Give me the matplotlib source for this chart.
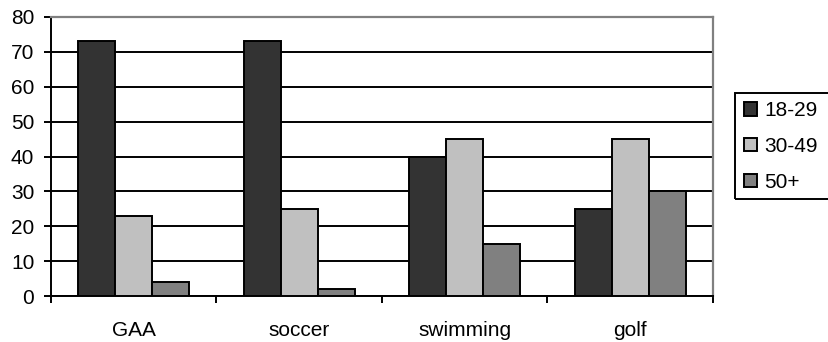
import matplotlib
matplotlib.use('Agg')
import matplotlib.pyplot as plt
from matplotlib.patches import Patch, Rectangle
import numpy as np

plt.rcParams['font.family'] = ['Liberation Sans', 'DejaVu Sans']

sports = ['GAA', 'soccer', 'swimming', 'golf']
age_groups = ['18-29', '30-49', '50+']
age_18_29 = [73, 73, 40, 25]
age_30_49 = [23, 25, 45, 45]
age_50_plus = [4, 2, 15, 30]
y_ticks = [0, 10, 20, 30, 40, 50, 60, 70, 80]

colors = ['#333333', '#c0c0c0', '#808080']
series = [age_18_29, age_30_49, age_50_plus]

W, H = 829, 342
fig = plt.figure(figsize=(W / 100, H / 100), dpi=100)
ax = fig.add_axes([51 / W, 1 - 296 / H, (713 - 51) / W, (296 - 17) / H])

centers = np.arange(len(sports)) + 0.5
width = 0.224
for j, (vals, c) in enumerate(zip(series, colors)):
    ax.bar(centers + (j - 1) * width, vals, width, color=c,
           edgecolor='black', linewidth=1.4, zorder=3, label=age_groups[j])

ax.set_xlim(0, len(sports))
ax.set_ylim(0, 80)
ax.set_yticks(y_ticks)
ax.yaxis.grid(True, color='black', linewidth=1.4, zorder=0)
ax.set_axisbelow(True)

# category labels centred, tick marks on the boundaries
ax.set_xticks(centers)
ax.set_xticklabels(sports, fontsize=15)
ax.tick_params(axis='x', which='major', length=0, pad=18)
ax.set_xticks(np.arange(len(sports) + 1), minor=True)
ax.tick_params(axis='x', which='minor', length=5, width=1.4, direction='out')
ax.tick_params(axis='y', length=5, width=1.4, pad=7, labelsize=15)

for s in ['left', 'bottom']:
    ax.spines[s].set_color('black')
    ax.spines[s].set_linewidth(1.4)
for s in ['top', 'right']:
    ax.spines[s].set_color('#808080')
    ax.spines[s].set_linewidth(1.6)

# legend frame runs off the right edge
fig.patches.append(Rectangle((735 / W, 1 - 199 / H), 100 / W, (199 - 93) / H,
                             transform=fig.transFigure, fill=False,
                             edgecolor='black', linewidth=1.4))
handles = [Patch(facecolor=c, edgecolor='black', linewidth=1.4) for c in colors]
fig.legend(handles, age_groups, loc='upper left',
           bbox_to_anchor=(738 / W, 1 - 95 / H), frameon=False, fontsize=15,
           handlelength=0.6, handleheight=0.6, handletextpad=0.35,
           labelspacing=0.8, borderpad=0.3, borderaxespad=0)

fig.savefig('out.png', dpi=100)
